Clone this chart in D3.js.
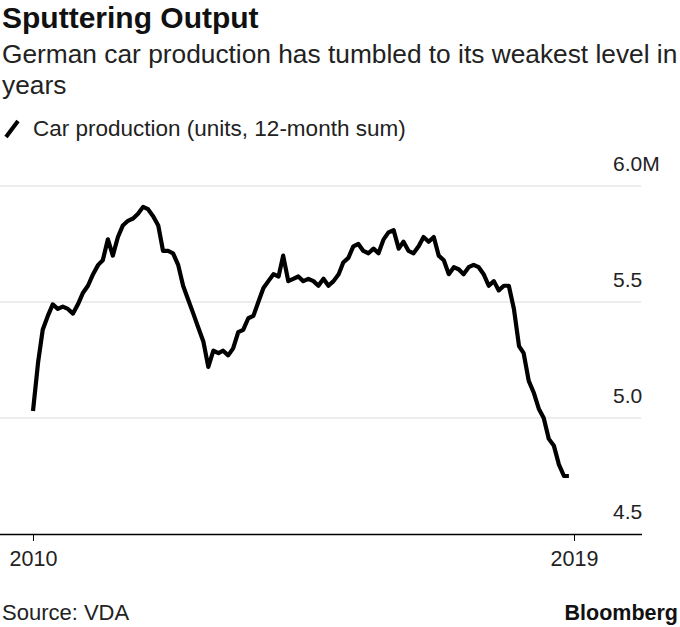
<!DOCTYPE html>
<html>
<head>
<meta charset="utf-8">
<script src="https://cdn.jsdelivr.net/npm/d3@7/dist/d3.min.js"></script>
<style>
  html, body { margin: 0; padding: 0; background: #fff; }
  svg { display: block; }
  text { font-family: "Liberation Sans", Arial, sans-serif; }
</style>
</head>
<body>
<svg id="chart" width="680" height="627"></svg>
<script>
// ---- Data (millions of units, 12-month rolling sum), monthly Jan 2010 – Dec 2018
const startMonth = "2010-01";
const production = [
  5.03, 5.24, 5.38, 5.44, 5.49, 5.47, 5.48, 5.47, 5.45, 5.49, 5.54, 5.57,
  5.62, 5.66, 5.68, 5.77, 5.70, 5.78, 5.83, 5.85, 5.86, 5.88, 5.91, 5.90,
  5.87, 5.83, 5.72, 5.72, 5.71, 5.66, 5.57, 5.51, 5.45, 5.39, 5.33, 5.22,
  5.29, 5.28, 5.29, 5.27, 5.30, 5.37, 5.38, 5.43, 5.44, 5.50, 5.56, 5.59,
  5.62, 5.61, 5.70, 5.59, 5.60, 5.61, 5.59, 5.60, 5.59, 5.57, 5.60, 5.57,
  5.59, 5.62, 5.67, 5.69, 5.74, 5.75, 5.72, 5.71, 5.73, 5.71, 5.77, 5.80,
  5.81, 5.73, 5.76, 5.72, 5.71, 5.74, 5.78, 5.76, 5.78, 5.70, 5.68, 5.62,
  5.65, 5.64, 5.62, 5.65, 5.66, 5.65, 5.62, 5.57, 5.59, 5.55, 5.57, 5.57,
  5.47, 5.31, 5.28, 5.16, 5.11, 5.04, 5.00, 4.91, 4.88, 4.80, 4.75, 4.75
];
const yTicks = [4.5, 5.0, 5.5, 6.0];
const yTickLabels = ["4.5", "5.0", "5.5", "6.0M"];
const xTicks = ["2010-01-01", "2019-01-01"];
const xTickLabels = ["2010", "2019"];

const title = "Sputtering Output";
const subtitleLines = ["German car production has tumbled to its weakest level in", "years"];
const legendLabel = "Car production (units, 12-month sum)";
const sourceText = "Source: VDA";
const brand = "Bloomberg";

// ---- Build
const parseMonth = d3.timeParse("%Y-%m");
const t0 = parseMonth(startMonth);
const data = production.map((v, i) => ({ date: d3.timeMonth.offset(t0, i), value: v }));

const svg = d3.select("#chart");

const x = d3.scaleTime()
  .domain([new Date(2010, 0, 1), new Date(2019, 0, 1)])
  .range([33, 574]);
const y = d3.scaleLinear().domain([4.5, 6.0]).range([534, 186]);

// Title block
svg.append("text").attr("x", 2).attr("y", 28)
  .attr("font-size", 30).attr("font-weight", "bold").attr("fill", "#111")
  .text(title);
subtitleLines.forEach((line, i) => {
  svg.append("text").attr("x", 2).attr("y", 63 + i * 31)
    .attr("font-size", 26.3).attr("fill", "#222")
    .text(line);
});

// Legend
svg.append("line").attr("x1", 6).attr("y1", 137).attr("x2", 18).attr("y2", 121)
  .attr("stroke", "#000").attr("stroke-width", 4);
svg.append("text").attr("x", 33).attr("y", 136)
  .attr("font-size", 22.5).attr("fill", "#222")
  .text(legendLabel);

// Gridlines
const gridG = svg.append("g");
gridG.selectAll("line").data(yTicks.filter(d => d !== 4.5)).join("line")
  .attr("x1", 0).attr("x2", 641)
  .attr("y1", d => y(d)).attr("y2", d => y(d))
  .attr("stroke", "#e6e6e6").attr("stroke-width", 1.5);

// Y labels
svg.append("g").selectAll("text").data(yTicks).join("text")
  .attr("x", 613).attr("y", d => y(d) - 15)
  .attr("font-size", 21).attr("fill", "#222")
  .text((d, i) => yTickLabels[i]);

// X axis
const xAxis = d3.axisBottom(x)
  .tickValues(xTicks.map(d => new Date(d + "T00:00:00")))
  .tickFormat((d, i) => xTickLabels[i])
  .tickSizeOuter(0).tickSize(7).tickPadding(10);
const ax = svg.append("g").attr("transform", "translate(0,534)").call(xAxis);
ax.select(".domain").attr("d", "M0,0.5H642").attr("stroke", "#000").attr("stroke-width", 1.3);
ax.selectAll(".tick line").attr("stroke", "#000");
ax.selectAll(".tick text").attr("font-size", 21.5).attr("fill", "#222")
  .attr("font-family", "Liberation Sans, Arial, sans-serif");

// Line
const line = d3.line().x(d => x(d.date)).y(d => y(d.value));
svg.append("path").datum(data)
  .attr("d", line)
  .attr("fill", "none").attr("stroke", "#000")
  .attr("stroke-width", 4.2).attr("stroke-linejoin", "round");

// Footer
svg.append("text").attr("x", 2).attr("y", 620)
  .attr("font-size", 22).attr("fill", "#222").text(sourceText);
svg.append("text").attr("x", 678).attr("y", 620).attr("text-anchor", "end")
  .attr("font-size", 21.5).attr("font-weight", "bold").attr("fill", "#111").text(brand);
</script>
</body>
</html>
